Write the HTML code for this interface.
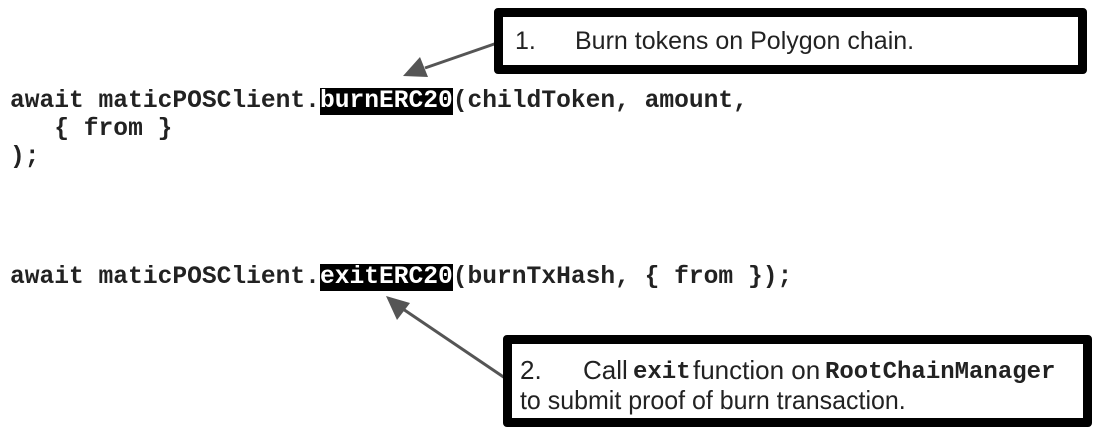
<!DOCTYPE html>
<html><head><style>
body{margin:0;width:1099px;height:431px;background:#fff;position:relative;overflow:hidden}
.code{position:absolute;left:10px;font-family:"Liberation Mono",monospace;font-weight:bold;font-size:24.6px;line-height:28px;color:#222;white-space:pre}
.hl{background:#000;color:#fff}
.box{position:absolute;border:9px solid #000;border-radius:4px;background:#fff;font-family:"Liberation Sans",sans-serif;color:#222;box-sizing:border-box;white-space:nowrap;line-height:1}
.box span{position:absolute}
.s1{font-size:25px}
.s2{font-size:26px}
.m{font-family:"Liberation Mono",monospace;font-weight:bold;font-size:24px}
</style></head><body>
<svg width="1099" height="431" style="position:absolute;left:0;top:0">
<line x1="500" y1="42" x2="425" y2="68" stroke="#555" stroke-width="3"/>
<polygon points="403,76 420,57 428,77" fill="#555"/>
<line x1="505" y1="378" x2="400" y2="307" stroke="#555" stroke-width="3"/>
<polygon points="386,296 410,303 397,320" fill="#555"/>
</svg>
<div class="code" style="top:88px">await maticPOSClient.<span class="hl">burnERC20</span>(childToken, amount,
   { from }
);</div>
<div class="code" style="top:264px">await maticPOSClient.<span class="hl">exitERC20</span>(burnTxHash, { from });</div>
<div class="box" style="left:494px;top:8px;width:593px;height:66px;">
<span class="s1" style="left:12px;top:12px">1.</span>
<span class="s1" style="left:72px;top:12px">Burn tokens on Polygon chain.</span>
</div>
<div class="box" style="left:503px;top:335px;width:589px;height:92px;">
<span class="s2" style="left:8px;top:13px">2.</span>
<span class="s2" style="left:71px;top:13px">Call</span>
<span class="m" style="left:121px;top:17px">exit</span>
<span class="s2" style="left:181px;top:13px">function on</span>
<span class="m" style="left:313px;top:17px">RootChainManager</span>
<span class="s2" style="left:8px;top:43px;transform:scaleX(0.96);transform-origin:0 50%">to submit proof of burn transaction.</span>
</div>
</body></html>
